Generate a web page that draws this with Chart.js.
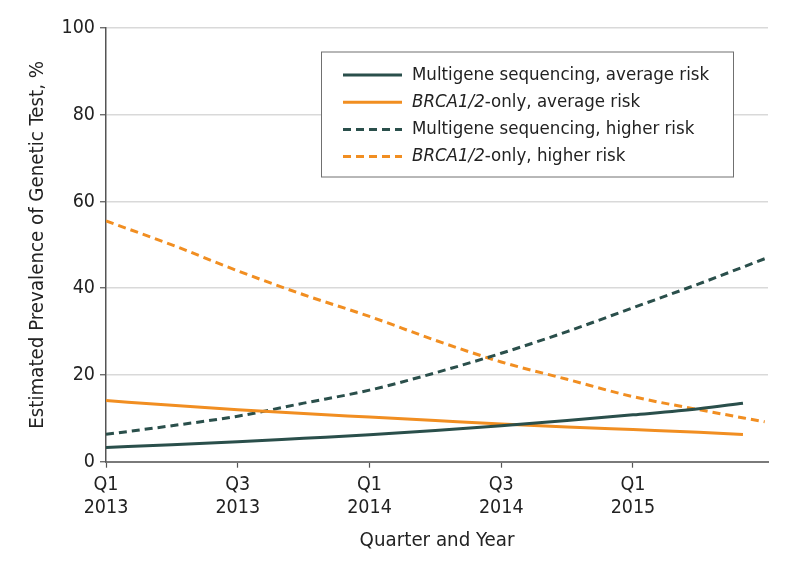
<!DOCTYPE html>
<html>
<head>
<meta charset="utf-8">
<script src="https://cdn.jsdelivr.net/npm/chart.js@4.4.1/dist/chart.umd.min.js"></script>
<style>
  html, body { margin: 0; padding: 0; background: #fff; }
  #wrap { width: 794px; height: 570px; }
</style>
</head>
<body>
<div id="wrap"><canvas id="chart" width="794" height="570"></canvas></div>
<script>
// Quarters since Q1 2013 (x position of each estimate)
const quartersHigher = [0, 1, 2, 3, 4, 5, 6, 7, 8, 9, 10];
const quartersAverage = [0, 1, 2, 3, 4, 5, 6, 7, 8, 9, 9.67];

// Estimated prevalence, %
const multigeneAverage = [3.3, 3.9, 4.6, 5.4, 6.2, 7.2, 8.3, 9.5, 10.8, 12.2, 13.5];
const brcaAverage = [14.1, 13.0, 12.0, 11.1, 10.3, 9.5, 8.7, 8.0, 7.4, 6.8, 6.3];
const multigeneHigher = [6.3, 8.3, 10.5, 13.5, 16.5, 20.5, 25, 30, 35.5, 41, 46.8];
const brcaHigher = [55.5, 50, 44, 38.5, 33.5, 28, 23, 19, 15, 12, 9.2];

// Axis ticks
const xTickValues = [0, 2, 4, 6, 8];
const xTickLabels = [['Q1', '2013'], ['Q3', '2013'], ['Q1', '2014'], ['Q3', '2014'], ['Q1', '2015']];
const yTicks = [0, 20, 40, 60, 80, 100];

// Legend entries (italic gene name followed by plain text)
const legendItems = [
  { parts: [['Multigene sequencing, average risk', false]], color: 'teal', dashed: false },
  { parts: [['BRCA1/2', true], ['-only, average risk', false]], color: 'orange', dashed: false },
  { parts: [['Multigene sequencing, higher risk', false]], color: 'teal', dashed: true },
  { parts: [['BRCA1/2', true], ['-only, higher risk', false]], color: 'orange', dashed: true },
];

const COLORS = { teal: '#2a4f4b', orange: '#f18e21' };
const FONT = '"DejaVu Sans Condensed", "DejaVu Sans", sans-serif';
const LEGEND_SIZE = 18.5;
const TICK_SIZE = 19.5;
const TITLE_SIZE = 20.3;
const DASH = [8, 5];

const toPoints = (xs, ys) => xs.map((x, i) => ({ x, y: ys[i] }));

Chart.defaults.font.family = FONT;
Chart.defaults.font.size = TICK_SIZE;
Chart.defaults.color = '#222';

// Boxed legend drawn on the canvas so the gene name can be italic
const boxLegend = {
  id: 'boxLegend',
  afterDraw(chart) {
    const { ctx, chartArea } = chart;
    const left = chartArea.left + 215;
    const top = chartArea.top + 23.5;
    const width = 412;
    const height = 125;
    ctx.save();
    ctx.fillStyle = '#fff';
    ctx.fillRect(left, top, width, height);
    ctx.strokeStyle = '#707070';
    ctx.lineWidth = 1;
    ctx.strokeRect(left + 0.5, top + 0.5, width, height);
    legendItems.forEach((item, i) => {
      const y = top + 23.5 + i * 27.2;
      ctx.beginPath();
      ctx.strokeStyle = COLORS[item.color];
      ctx.lineWidth = 3;
      ctx.setLineDash(item.dashed ? DASH : []);
      ctx.moveTo(left + 22, y);
      ctx.lineTo(left + 81, y);
      ctx.stroke();
      ctx.setLineDash([]);
      let x = left + 91;
      ctx.fillStyle = '#222';
      ctx.textBaseline = 'middle';
      ctx.textAlign = 'left';
      item.parts.forEach(([text, italic]) => {
        ctx.font = `${italic ? 'italic ' : ''}${LEGEND_SIZE}px ${FONT}`;
        ctx.fillText(text, x, y);
        x += ctx.measureText(text).width;
      });
    });
    ctx.restore();
  },
};

const lineStyle = (color, dashed) => ({
  borderColor: COLORS[color],
  backgroundColor: COLORS[color],
  borderWidth: 3,
  borderDash: dashed ? DASH : [],
  pointRadius: 0,
  fill: false,
  tension: 0.4,
  cubicInterpolationMode: 'monotone',
});

new Chart(document.getElementById('chart'), {
  type: 'line',
  data: {
    datasets: [
      { label: 'Multigene sequencing, average risk', data: toPoints(quartersAverage, multigeneAverage), ...lineStyle('teal', false) },
      { label: 'BRCA1/2-only, average risk', data: toPoints(quartersAverage, brcaAverage), ...lineStyle('orange', false) },
      { label: 'Multigene sequencing, higher risk', data: toPoints(quartersHigher, multigeneHigher), ...lineStyle('teal', true) },
      { label: 'BRCA1/2-only, higher risk', data: toPoints(quartersHigher, brcaHigher), ...lineStyle('orange', true) },
    ],
  },
  options: {
    responsive: false,
    animation: false,
    devicePixelRatio: 1,
    layout: { padding: { top: 28, right: 26, bottom: 0, left: 0 } },
    scales: {
      x: {
        type: 'linear',
        min: 0,
        max: 10.05,
        afterBuildTicks: (scale) => { scale.ticks = xTickValues.map((value) => ({ value })); },
        afterFit: (scale) => { scale.height = 108.3; },
        border: { color: '#7a7a7a', width: 2 },
        grid: { drawOnChartArea: false, drawTicks: true, tickLength: 6, tickColor: '#555', tickWidth: 1.2 },
        ticks: {
          padding: 6,
          maxRotation: 0,
          autoSkip: false,
          font: { size: TICK_SIZE, lineHeight: 1.17 },
          callback: (value) => xTickLabels[xTickValues.indexOf(value)],
        },
        title: {
          display: true,
          text: 'Quarter and Year',
          font: { size: TITLE_SIZE, lineHeight: 1.2 },
          padding: { top: 0, bottom: 16.8 },
        },
      },
      y: {
        min: 0,
        max: 100,
        afterBuildTicks: (scale) => { scale.ticks = yTicks.map((value) => ({ value })); },
        afterFit: (scale) => { scale.width = 106; },
        border: { color: '#555', width: 1.5 },
        grid: { color: '#d9d9d9', lineWidth: 1.5, tickLength: 6, tickColor: '#555', tickWidth: 1.2 },
        ticks: { padding: 5, font: { size: TICK_SIZE } },
        title: {
          display: true,
          text: 'Estimated Prevalence of Genetic Test, %',
          font: { size: TITLE_SIZE, lineHeight: 1.2 },
          padding: { top: 25.8, bottom: 0 },
        },
      },
    },
    plugins: {
      legend: { display: false },
      tooltip: { enabled: false },
    },
  },
  plugins: [boxLegend],
});
</script>
</body>
</html>
